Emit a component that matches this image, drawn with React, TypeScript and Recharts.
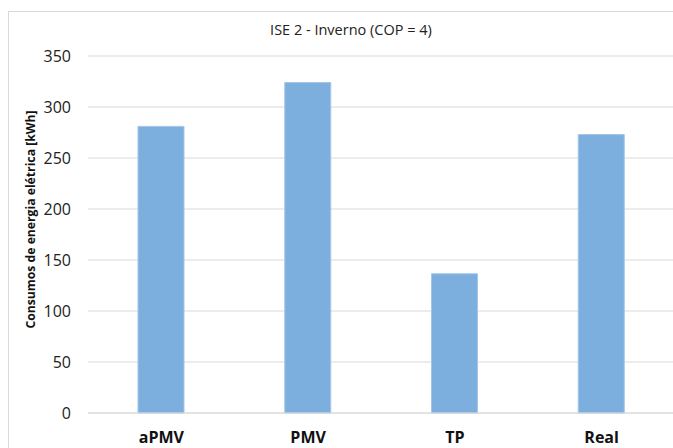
import { BarChart, Bar, XAxis, YAxis, CartesianGrid } from "recharts"

const categories = ["aPMV", "PMV", "TP", "Real"]
const consumos = [281, 324, 136.5, 273]
const yTicks = [0, 50, 100, 150, 200, 250, 300, 350]

const chartTitle = "ISE 2 - Inverno (COP = 4)"
const yLabel = "Consumos de energia elétrica [kWh]"

const FONT = "'Open Sans', sans-serif"

const data = categories.map((name, i) => ({ name, value: consumos[i] }))

function YAxisTitle(props: any) {
  const vb = props.viewBox || { y: 44, height: 357 }
  const cy = vb.y + vb.height / 2 - 15
  return (
    <text
      x={21}
      y={cy}
      transform={`rotate(-90, 21, ${cy})`}
      textAnchor="middle"
      dominantBaseline="central"
      fontFamily={FONT}
      fontSize={12.2}
      fontWeight="bold"
      fill="#111"
    >
      {yLabel}
    </text>
  )
}

export default function App() {
  return (
    <div style={{ position: "absolute", left: 0, top: 0, width: 673, height: 448, overflow: "hidden", background: "#fff" }}>
      <div style={{ position: "absolute", left: 8, top: 11, width: 700, height: 460, border: "1px solid #d9d9d9" }}>
        <div
          style={{
            position: "absolute",
            left: 0,
            top: 8,
            width: 684,
            textAlign: "center",
            fontFamily: FONT,
            fontSize: 14.5,
            color: "#222",
            lineHeight: "20px",
          }}
        >
          {chartTitle}
        </div>
        <BarChart width={700} height={460} data={data} margin={{ top: 44, right: 34, left: 0, bottom: 19 }}>
          <CartesianGrid vertical={false} stroke="#d9d9d9" strokeWidth={1.2} />
          <XAxis
            dataKey="name"
            height={40}
            tickLine={false}
            tickSize={0}
            tickMargin={19}
            axisLine={{ stroke: "#d9d9d9", strokeWidth: 1.2 }}
            tick={{ fontFamily: FONT, fontSize: 16, fontWeight: "bold", fill: "#111" }}
          />
          <YAxis
            width={79}
            domain={[0, 350]}
            ticks={yTicks}
            interval={0}
            axisLine={false}
            tickLine={false}
            tickSize={0}
            tickMargin={17}
            tick={{ fontFamily: FONT, fontSize: 16, fill: "#222" }}
            label={<YAxisTitle />}
          />
          <Bar dataKey="value" fill="#7cafde" stroke="#a3c6ea" strokeWidth={1} barSize={46} isAnimationActive={false} />
        </BarChart>
      </div>
    </div>
  )
}
